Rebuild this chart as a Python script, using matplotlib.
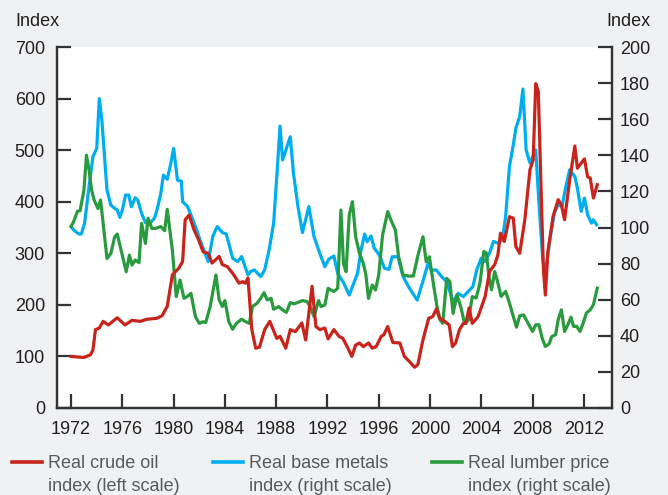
'''real commodity price indexes, 1972-2013'''
import matplotlib
matplotlib.use('Agg')
from matplotlib import pyplot as plt
from matplotlib.lines import Line2D

# real crude oil index (left scale)
oil_years = [1972.0, 1973.0, 1973.5, 1973.7, 1973.9, 1974.2, 1974.5, 1974.9, 1975.6, 1976.2,
             1976.75, 1977.4, 1977.9, 1978.7, 1979.1, 1979.5, 1979.9, 1980.4, 1980.7, 1980.9,
             1981.2, 1981.6, 1981.95, 1982.3, 1982.7, 1983.0, 1983.55, 1983.8, 1984.2, 1984.7,
             1985.1, 1985.4, 1985.6, 1985.8, 1986.1, 1986.4, 1986.7, 1987.1, 1987.5, 1988.05,
             1988.3, 1988.75, 1989.1, 1989.5, 1990.0, 1990.3, 1990.8, 1991.1, 1991.4, 1991.8,
             1992.05, 1992.5, 1992.9, 1993.2, 1993.6, 1993.9, 1994.2, 1994.5, 1994.8, 1995.2,
             1995.5, 1995.8, 1996.2, 1996.4, 1996.7, 1997.1, 1997.65, 1998.0, 1998.4, 1998.8,
             1999.05, 1999.45, 1999.9, 2000.2, 2000.5, 2000.75, 2001.15, 2001.5, 2001.75, 2002.0,
             2002.3, 2002.6, 2002.8, 2003.05, 2003.3, 2003.75, 2004.3, 2004.65, 2005.05, 2005.3,
             2005.5, 2005.8, 2006.2, 2006.5, 2006.7, 2007.0, 2007.4, 2007.8, 2008.05, 2008.25,
             2008.45, 2008.7, 2008.85, 2009.0, 2009.2, 2009.6, 2010.0, 2010.25, 2010.5, 2010.9,
             2011.3, 2011.5, 2012.05, 2012.3, 2012.5, 2012.75, 2013.05]
oil_values = [100, 98, 103, 112, 152, 155, 168, 161, 175, 161,
              170, 168, 172, 174, 179, 197, 258, 271, 284, 365,
              374, 345, 326, 303, 300, 281, 294, 278, 274, 258,
              242, 245, 242, 252, 152, 116, 118, 152, 168, 135,
              139, 116, 152, 148, 165, 132, 236, 158, 152, 155,
              134, 152, 139, 135, 116, 100, 122, 126, 119, 126,
              116, 119, 139, 142, 158, 127, 126, 100, 90, 79,
              84, 132, 174, 177, 192, 174, 168, 161, 119, 126,
              152, 164, 164, 194, 164, 177, 216, 265, 278, 297,
              339, 323, 371, 368, 313, 300, 365, 462, 481, 629,
              614, 397, 268, 219, 303, 371, 404, 394, 365, 442,
              508, 465, 483, 448, 446, 407, 433]

# real base metals index (right scale)
metals_years = [1972.0, 1972.2, 1972.6, 1972.8, 1973.05, 1973.4, 1973.7, 1974.0, 1974.2, 1974.4,
                1974.8, 1975.1, 1975.4, 1975.6, 1975.8, 1976.0, 1976.25, 1976.5, 1976.7, 1977.0,
                1977.2, 1977.5, 1977.8, 1978.1, 1978.5, 1978.7, 1979.0, 1979.2, 1979.5, 1979.75,
                1980.0, 1980.3, 1980.6, 1980.7, 1981.1, 1981.4, 1981.8, 1982.1, 1982.7, 1983.05,
                1983.4, 1983.8, 1984.1, 1984.3, 1984.6, 1985.0, 1985.3, 1985.8, 1986.0, 1986.3,
                1986.8, 1987.1, 1987.45, 1987.8, 1988.1, 1988.3, 1988.5, 1989.1, 1989.35, 1989.7,
                1990.05, 1990.55, 1990.95, 1991.4, 1991.8, 1992.1, 1992.5, 1992.8, 1993.25, 1993.7,
                1994.1, 1994.35, 1994.6, 1994.9, 1995.1, 1995.4, 1995.65, 1996.05, 1996.45, 1996.8,
                1997.05, 1997.5, 1997.9, 1998.4, 1999.0, 1999.4, 1999.85, 2000.1, 2000.5, 2000.9,
                2001.3, 2001.8, 2002.2, 2002.6, 2003.1, 2003.35, 2003.65, 2004.0, 2004.3, 2004.65,
                2004.95, 2005.3, 2005.65, 2005.9, 2006.2, 2006.5, 2006.7, 2007.0, 2007.25, 2007.5,
                2007.8, 2008.25, 2008.5, 2008.8, 2009.0, 2009.35, 2009.7, 2010.0, 2010.3, 2010.6,
                2010.9, 2011.3, 2011.5, 2011.8, 2012.05, 2012.3, 2012.6, 2012.75, 2013.0]
metals_values = [100.5, 98.6, 96.4, 96.4, 102.3, 122.6, 139.2, 143.8, 171.4, 159.5,
                 120.7, 112.4, 110.6, 109.7, 105.6, 109.7, 118, 118, 111.5, 116.5,
                 115.2, 107.8, 102.7, 101.9, 105.1, 109.7, 118.9, 129, 126.7, 134.5,
                 143.8, 126.2, 125.7, 114.3, 111.5, 106, 98.6, 92.2, 81.1, 95,
                 100.5, 97.2, 96.4, 91.3, 83, 81.1, 83.9, 73.7, 75.6, 76.5,
                 72.8, 76.5, 87.6, 102.3, 133.7, 156.2, 137.4, 150.3, 130, 111.6,
                 97.2, 111.6, 95, 85.7, 78.3, 82.4, 84.2, 74.6, 69.5, 62.6,
                 70, 74.6, 86.6, 96.4, 92.1, 95.3, 88.5, 84.8, 77.4, 76.8,
                 83.8, 83.8, 72.8, 66.3, 59.8, 69.1, 80.1, 76.4, 76.4, 72.8,
                 70, 58.9, 63.5, 61.7, 65.4, 67.3, 76.6, 83, 81.2, 85.8,
                 92.3, 91.3, 93.2, 106.1, 133.8, 145.8, 155.1, 161.5, 176.7, 143,
                 135.7, 143, 113.5, 82.1, 74.7, 93.2, 108, 112.6, 111.7, 122.7,
                 132, 128.3, 121.8, 108.9, 116.3, 107, 102.4, 104.3, 101.5]

# real lumber price index (right scale)
lumber_years = [1972.0, 1972.2, 1972.5, 1972.7, 1973.0, 1973.2, 1973.4, 1973.6, 1973.8, 1974.1,
                1974.3, 1974.5, 1974.8, 1975.1, 1975.4, 1975.6, 1975.9, 1976.3, 1976.55, 1976.75,
                1977.0, 1977.3, 1977.5, 1977.8, 1978.0, 1978.3, 1978.6, 1979.0, 1979.3, 1979.5,
                1979.9, 1980.2, 1980.5, 1980.8, 1981.05, 1981.35, 1981.7, 1982.0, 1982.3, 1982.5,
                1982.85, 1983.3, 1983.55, 1983.8, 1984.0, 1984.3, 1984.6, 1984.9, 1985.3, 1985.6,
                1985.9, 1986.15, 1986.5, 1986.8, 1987.05, 1987.3, 1987.6, 1987.8, 1988.2, 1988.5,
                1988.8, 1989.1, 1989.4, 1989.65, 1990.05, 1990.4, 1990.65, 1990.95, 1991.3, 1991.5,
                1991.8, 1992.05, 1992.5, 1992.8, 1993.05, 1993.25, 1993.45, 1993.7, 1993.95, 1994.2,
                1994.5, 1994.8, 1995.0, 1995.2, 1995.5, 1995.75, 1996.0, 1996.3, 1996.7, 1996.95,
                1997.3, 1997.55, 1997.9, 1998.35, 1998.7, 1999.1, 1999.45, 1999.7, 1999.95, 2000.3,
                2000.55, 2000.8, 2001.0, 2001.3, 2001.55, 2001.8, 2002.1, 2002.4, 2002.7, 2003.0,
                2003.3, 2003.6, 2003.9, 2004.2, 2004.4, 2004.6, 2004.8, 2005.05, 2005.3, 2005.55,
                2005.9, 2006.2, 2006.5, 2006.75, 2007.0, 2007.3, 2007.65, 2008.0, 2008.25, 2008.5,
                2008.75, 2009.0, 2009.3, 2009.5, 2009.8, 2010.0, 2010.25, 2010.5, 2010.75, 2011.0,
                2011.2, 2011.45, 2011.7, 2011.95, 2012.2, 2012.5, 2012.75, 2013.05]
lumber_values = [100.5, 103.3, 109, 109.3, 120.7, 140.1, 131.8, 120.7, 115.2, 110.5,
                 115.2, 102.2, 82.8, 85.6, 94.8, 96.4, 87.5, 75.5, 84.7, 79.2,
                 82, 80.5, 102.3, 91.2, 105.1, 99.5, 99.5, 100.5, 98.2, 110.1,
                 87.5, 61.7, 70.9, 60.8, 61.7, 63.5, 50.6, 46.9, 47.8, 47.3,
                 56.2, 73.7, 59.9, 56.2, 59.5, 47.9, 43.6, 46.9, 49.2, 47.9,
                 46.9, 56.2, 58, 60.8, 63.9, 59.9, 60.8, 54.7, 56.2, 54.3,
                 53, 58.4, 57.7, 58.4, 59.5, 59, 56.2, 50.6, 59.5, 56.2,
                 57.1, 66.3, 64.5, 66.3, 109.7, 80.1, 75.5, 106.9, 114.3, 94.9,
                 85.7, 80.1, 73.7, 60.7, 68.1, 65.4, 73.7, 95.8, 108.8, 104.2,
                 98.6, 83.8, 73.7, 73.1, 73.1, 85.7, 94.9, 81.1, 83.8, 67.2,
                 56.1, 48.7, 46.9, 71.8, 70, 52.4, 62.6, 56.1, 46.9, 48.7,
                 61.7, 60.9, 69.2, 86.7, 85.8, 72.9, 65.5, 75.6, 69.2, 61.8,
                 64.6, 58.1, 50.7, 44.8, 51.1, 51.6, 47, 42.4, 46.1, 46.1,
                 38.7, 34.1, 35.6, 39.6, 40.6, 48.9, 54.4, 42.4, 46.1, 50.3,
                 45.2, 45.2, 42.4, 47, 52.6, 54.4, 57.2, 66.4]

year_ticks = list(range(1972, 2013, 4))
left_ticks = list(range(0, 701, 100))
right_ticks = list(range(0, 201, 20))

RED = '#c8241c'
BLUE = '#00aeef'
GREEN = '#2a9a3f'
BG = '#f0f1f3'
INK = '#231f20'
GREY = '#58595b'
FS = 13


def style_axis(ax):
  ax.tick_params(direction='in', length=10, width=1.6, color='#333333',
                 labelsize=FS, labelcolor=INK)
  ax.tick_params(axis='x', pad=9)


def plot():
  plt.rcParams['font.family'] = ['Liberation Sans', 'DejaVu Sans']

  fig = plt.figure(figsize=(6.68, 4.95), dpi=100, facecolor=BG)
  ax = fig.add_axes([57/668, 1 - 408/495, (612 - 57)/668, (408 - 47)/495])
  ax.set_facecolor('white')
  ax2 = ax.twinx()

  ax2.plot(metals_years, metals_values, color=BLUE, lw=2.3, zorder=1)
  ax2.plot(lumber_years, lumber_values, color=GREEN, lw=2.3, zorder=2)
  # oil goes on top, but it belongs to the left scale
  ax3 = ax.twinx()
  ax3.axis('off')
  ax3.plot(oil_years, oil_values, color=RED, lw=2.3, zorder=3)

  ax.set_xlim(1970.9, 2014.2)
  ax.set_ylim(0, 700)
  ax3.set_ylim(0, 700)
  ax2.set_ylim(0, 200)
  ax.set_xticks(year_ticks)
  ax.set_yticks(left_ticks)
  ax2.set_yticks(right_ticks)

  for a in (ax, ax2):
    for side in ('left', 'right', 'bottom'):
      a.spines[side].set_linewidth(1.6)
      a.spines[side].set_color('#333333')
    a.spines['top'].set_visible(False)
  style_axis(ax)
  style_axis(ax2)
  ax.tick_params(axis='y', pad=8.6)
  ax2.tick_params(axis='y', pad=5.8)

  fig.text(15/668, 1 - 21/495, 'Index', fontsize=FS, color=INK, va='center', ha='left')
  fig.text(650/668, 1 - 21/495, 'Index', fontsize=FS, color=INK, va='center', ha='right')

  # legend along the bottom
  entries = [(12, RED, 'Real crude oil\nindex (left scale)'),
             (213, BLUE, 'Real base metals\nindex (right scale)'),
             (432, GREEN, 'Real lumber price\nindex (right scale)')]
  for x0, col, label in entries:
    fig.add_artist(Line2D([x0/668, (x0 + 30)/668], [1 - 462/495, 1 - 462/495],
                          transform=fig.transFigure, color=col, lw=2.6))
    fig.text((x0 + 36)/668, 1 - 475/495, label, fontsize=FS, color=GREY,
             va='center', ha='left', linespacing=1.45)

  fig.savefig('out.png', dpi=100, facecolor=BG)


if __name__ == '__main__':

  plot()
